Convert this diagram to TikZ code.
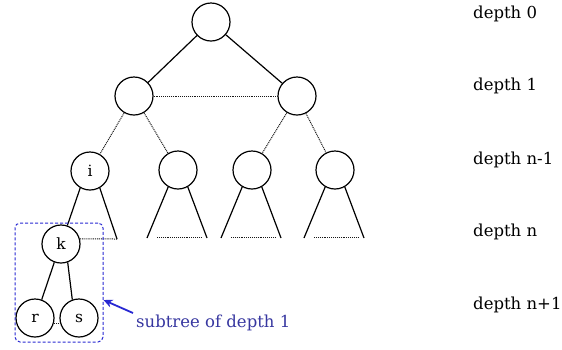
\documentclass[tikz,border=0pt]{standalone}
\usepackage{fontspec}
\setmainfont{DejaVu Serif}
\usetikzlibrary{arrows.meta}
\definecolor{boxblue}{RGB}{40,40,210}
\definecolor{txtblue}{RGB}{55,55,160}
\tikzset{
  tn/.style={draw, circle, line width=1.2pt, minimum size=38pt, inner sep=0pt, font=\fontsize{15.5}{18}\selectfont},
  solidedge/.style={line width=1.2pt},
  dotedge/.style={line width=1pt, dash pattern=on 1pt off 0.9pt, black!90},
  lbl/.style={anchor=west, font=\fontsize{16.5}{19}\selectfont, inner sep=0pt, text=black},
}
\begin{document}
\begin{tikzpicture}[x=1pt, y=-1pt]
\useasboundingbox (0,0) rectangle (562,349);
% nodes
\node[tn] (root) at (211,22) {};
\node[tn] (a) at (134,96) {};
\node[tn] (b) at (297,96) {};
\node[tn] (i) at (90,171) {i};
\node[tn] (c) at (178,170) {};
\node[tn] (d) at (252,170) {};
\node[tn] (e) at (335,170) {};
\node[tn] (k) at (61,244) {k};
\node[tn] (r) at (35,318) {r};
\node[tn] (s) at (79,318) {s};
% edges
\draw[solidedge] (root) -- (a);
\draw[solidedge] (root) -- (b);
\draw[dotedge] (a) -- (b);
\draw[dotedge] (a) -- (i);
\draw[dotedge] (a) -- (c);
\draw[dotedge] (b) -- (d);
\draw[dotedge] (b) -- (e);
% triangles
\foreach \n in {c,d,e}{
  \coordinate (\n L) at ([xshift=-31pt,yshift=-68pt]\n.center);
  \coordinate (\n R) at ([xshift=29pt,yshift=-68pt]\n.center);
  \coordinate (\n l) at ([xshift=-21pt,yshift=-67pt]\n.center);
  \coordinate (\n r) at ([xshift=24pt,yshift=-67pt]\n.center);
  \draw[solidedge] (\n.-120) -- (\n L);
  \draw[solidedge] (\n.-60) -- (\n R);
  \draw[dotedge] (\n l) -- (\n r);
}
% subtree under i
\coordinate (iR) at (117,239);
\draw[solidedge] (i.-120) -- (k);
\draw[solidedge] (i.-60) -- (iR);
\draw[dotedge] (k.15) -- (iR);
\draw[solidedge] (k.-110) -- (r.70);
\draw[solidedge] (k.-70) -- (s.110);
\draw[dotedge] (r.-15) -- (s.-165);
% blue box
\node[draw=boxblue, densely dashed, line width=1pt, rounded corners=5pt, minimum width=88pt, minimum height=119pt, inner sep=0pt] (box) at (59,282.5) {};
\node[anchor=west, text=txtblue, font=\fontsize{16.5}{19}\selectfont, inner sep=0pt] (sub) at (136,323) {subtree of depth 1};
\coordinate (arrtail) at (133,313);
\draw[boxblue, line width=1.8pt, -{Stealth[length=9pt,width=8pt]}] (arrtail) -- (box.east |- 0,300);
% depth labels
\node[lbl] (l0) at (473,14) {depth 0};
\node[lbl] (l1) at (473,86) {depth 1};
\node[lbl] (l2) at (473,160) {depth n-1};
\node[lbl] (l3) at (473,232) {depth n};
\node[lbl] (l4) at (473,305) {depth n+1};
\end{tikzpicture}
\end{document}
